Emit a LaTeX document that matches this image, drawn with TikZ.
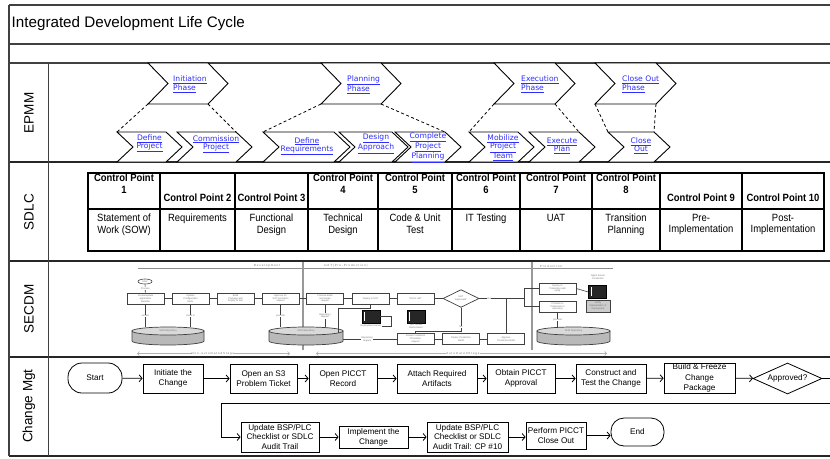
\documentclass[tikz,border=0pt]{standalone}
\usepackage{fontspec}
\setmainfont{Liberation Sans}
\newfontfamily\vfont{DejaVu Sans}
\newfontfamily\narrowfont[FakeStretch=0.9]{Liberation Sans}
\usetikzlibrary{arrows.meta,shapes.geometric,calc}
\definecolor{lnk}{RGB}{45,45,255}

\newcommand\chev[7]{% name, left x, top y, width, height, depth
  \draw[chevln] (#2,#3) coordinate (#1-nw) -- ++(#4,0) coordinate (#1-ne)
    -- ++(#6,#5/2) coordinate (#1-tip) -- ++(-#6,#5/2) coordinate (#1-se)
    -- ++(-#4,0) coordinate (#1-sw) -- ++(#6,-#5/2) coordinate (#1-notch) -- cycle;}

\newcommand\dbcyl[4]{% name, center x, top-ellipse y, x radius
  \draw[line width=0.7pt, black!75, fill=gray!55] (#2-#4,#3) -- (#2-#4,#3+10)
    arc[start angle=180, end angle=0, x radius=#4, y radius=4] -- (#2+#4,#3) -- cycle;
  \draw[line width=0.7pt, black!75, fill=gray!30] (#2,#3) ellipse[x radius=#4, y radius=4];
  \node[stxt] (#1) at (#2,#3) {SCM Repository};}

\tikzset{
  frameln/.style={line width=1.2pt, black!75},
  laneln/.style={line width=1.4pt, black!85},
  lanelbl/.style={rotate=90, font=\fontsize{13.5}{15}\selectfont},
  chevln/.style={line width=0.9pt, fill=white, line join=miter},
  phtxt/.style={font=\vfont\fontsize{7.6}{8.8}\selectfont, text=lnk, align=left, inner sep=0, anchor=west},
  subtxt/.style={font=\vfont\fontsize{7.6}{8}\selectfont, text=lnk, align=center, inner sep=0},
  dashln/.style={line width=0.8pt, dash pattern=on 3pt off 2.5pt},
  tbl/.style={line width=2.8pt},
  cph/.style={font=\narrowfont\bfseries\fontsize{10.5}{12}\selectfont, align=center, inner sep=0},
  cpb/.style={font=\narrowfont\fontsize{10.5}{11.5}\selectfont, align=center, inner sep=0, anchor=north},
  sln/.style={line width=0.6pt, black!75},
  sbox/.style={draw=black!75, line width=0.7pt, fill=white, minimum width=37, minimum height=11,
    inner sep=0.3, align=center, font=\fontsize{2.4}{2.8}\selectfont, text=black!55},
  stxt/.style={font=\fontsize{2.4}{2.8}\selectfont, text=black!55, align=center, inner sep=0.3},
  shead/.style={font=\fontsize{3}{3.5}\selectfont, text=black!55, inner sep=0},
  srv/.style={draw=black, fill=black!85, minimum width=18, minimum height=13, inner sep=0},
  mbox/.style={draw, line width=0.8pt, fill=white, align=center, inner sep=0,
    font=\fontsize{8.2}{9.8}\selectfont},
  arr/.style={line width=0.8pt, -{Straight Barb[length=3pt,width=7pt]}},
}

\begin{document}
\begin{tikzpicture}[x=1pt,y=-1pt]
\useasboundingbox (0,0) rectangle (830,458);
\clip (0,0) rectangle (830,458);
\fill[white] (0,0) rectangle (830,458);

% ---------- frame ----------
\draw[frameln] (9,5) -- (830,5);
\draw[frameln] (9,44) -- (830,44);
\draw[frameln] (9,63) -- (830,63);
\draw[laneln] (9,162) -- (830,162);
\draw[laneln] (9,261) -- (830,261);
\draw[laneln] (9,357) -- (830,357);
\draw[laneln] (9,456) -- (830,456);
\draw[frameln] (9,5) -- (9,456);
\draw[frameln] (48.5,63) -- (48.5,456);

\node[anchor=west, inner sep=0, font=\fontsize{15.2}{18}\selectfont] (title) at (11.5,24) {Integrated Development Life Cycle};

\node[lanelbl] (lEPMM) at (29,113) {EPMM};
\node[lanelbl] (lSDLC) at (29,212) {SDLC};
\node[lanelbl] (lSECDM) at (29,309) {SECDM};
\node[lanelbl] (lCM) at (29,406) {Change Mgt};

% ---------- EPMM ----------
\chev{init}{148}{63}{60}{41}{20}{}
\chev{plan}{321}{63}{60}{41}{20}{}
\chev{exec}{494}{63}{61}{41}{20}{}
\chev{clos}{595}{63}{61}{41}{20}{}
\node[phtxt] (initT) at (173,84.5) {\underline{Initiation}\\\underline{Phase}};
\node[phtxt] (planT) at (347,84.5) {\underline{Planning}\\\underline{Phase}};
\node[phtxt] (execT) at (521,84.5) {\underline{Execution}\\\underline{Phase}};
\node[phtxt] (closT) at (622,84.5) {\underline{Close Out}\\\underline{Phase}};

\chev{defp}{117}{132}{49}{30}{16}{}
\chev{comm}{177}{132}{59}{30}{16}{}
\chev{defr}{263}{132}{71}{30}{16}{}
\chev{desa}{339}{132}{53}{30}{16}{}
\chev{comp}{395}{132}{50}{30}{16}{}
\chev{mobi}{469}{132}{49}{30}{16}{}
\chev{expl}{529}{132}{50}{30}{16}{}
\chev{clo}{608}{132}{46}{30}{16}{}
\node[subtxt] (defpT) at (149.5,143.5) {\underline{Define}\\\underline{Project}};
\node[subtxt] (commT) at (216,144) {\underline{Commission}\\\underline{Project}};
\node[subtxt] (defrT) at (307,146) {\underline{Define}\\\underline{Requirements}};
\node[subtxt] (desaT) at (376,143.5) {\underline{Design}\\\underline{Approach}};
\node[subtxt] (compT) at (428,147.5) {\underline{Complete}\\\underline{Project}\\\underline{Planning}};
\node[subtxt] (mobiT) at (503,148) {\underline{Mobilize}\\\underline{Project}\\\underline{Team}};
\node[subtxt] (explT) at (562,146) {\underline{Execute}\\\underline{Plan}};
\node[subtxt] (cloT) at (641,146) {\underline{Close}\\\underline{Out}};

\draw[dashln] (init-sw) -- (defp-nw);
\draw[dashln] (init-se) -- (comm-ne);
\draw[dashln] (plan-sw) -- (defr-nw);
\draw[dashln] (plan-se) -- (comp-ne);
\draw[dashln] (exec-sw) -- (mobi-nw);
\draw[dashln] (exec-se) -- (expl-ne);
\draw[dashln] (clos-sw) -- (clo-nw);
\draw[dashln] (clos-se) -- (clo-ne);

% ---------- SDLC table ----------
\draw[tbl] (88,173) rectangle (824,251);
\draw[tbl] (88,209) -- (824,209);
\foreach \xx in {160,235,308,378,452,520,592,660,742} \draw[tbl] (\xx,173) -- (\xx,251);
\node[cph] (cp1) at (124,184) {Control Point\\1};
\node[cph] (cp2) at (197.5,198) {Control Point 2};
\node[cph] (cp3) at (271.5,198) {Control Point 3};
\node[cph] (cp4) at (343,184) {Control Point\\4};
\node[cph] (cp5) at (415,184) {Control Point\\5};
\node[cph] (cp6) at (486,184) {Control Point\\6};
\node[cph] (cp7) at (556,184) {Control Point\\7};
\node[cph] (cp8) at (626,184) {Control Point\\8};
\node[cph] (cp9) at (701,198) {Control Point 9};
\node[cph] (cp10) at (783,198) {Control Point 10};
\node[cpb] (d1) at (124,214) {Statement of\\Work (SOW)};
\node[cpb] (d2) at (197.5,214) {Requirements};
\node[cpb] (d3) at (271.5,214) {Functional\\Design};
\node[cpb] (d4) at (343,214) {Technical\\Design};
\node[cpb] (d5) at (415,214) {Code \& Unit\\Test};
\node[cpb] (d6) at (486,214) {IT Testing};
\node[cpb] (d7) at (556,214) {UAT};
\node[cpb] (d8) at (626,214) {Transition\\Planning};
\node[cpb] (d9) at (701,214) {Pre-\\Implementation};
\node[cpb] (d10) at (783,214) {Post-\\Implementation};

% ---------- SECDM ----------
\draw[line width=0.6pt, black!45] (138,268.5) -- (613,268.5);
\draw[line width=1.5pt, black!40] (303,262) -- (303,350);
\draw[line width=1.5pt, black!40] (532,262) -- (532,350);
\node[shead] (hDev) at (267,266) {D e v e l o p m e n t};
\node[shead] (hUAT) at (346,266) {U A T  ( P r e - P r o d u c t i o n )};
\node[shead] (hProd) at (551,266) {P r o d u c t i o n};

\node[draw=black!75, line width=0.6pt, ellipse, minimum width=14, minimum height=5, inner sep=0, stxt] (sst) at (145,281.5) {Start};
\node[sbox] (s1) at (145.5,298.5) {Create/update\\application\\baseline};
\node[sbox] (s2) at (190.5,298.5) {Update\\Configuration\\Items};
\node[sbox] (s3) at (235.5,298.5) {Build\\Package and\\Deploy to Dev};
\node[sbox] (s4) at (280.5,298.5) {Approve for\\UAT promotion\\request};
\node[sbox] (s5) at (325,298.5) {Promote Build\\and create\\request};
\node[sbox] (s6) at (370.5,298.5) {Deploy to UAT};
\node[sbox] (s7) at (415.5,298.5) {Test in UAT};
\node[draw=black!75, line width=0.7pt, diamond, fill=white, minimum width=36, minimum height=11, inner sep=0, stxt] (sdia) at (461,298.5) {UAT\\Approved?};
\draw[sln] (sst) -- (s1) node[midway, fill=white, stxt] {Process};
\draw[sln] (s1) -- (s2);
\draw[sln] (s2) -- (s3);
\draw[sln] (s3) -- (s4);
\draw[sln] (s4) -- (s5);
\draw[sln] (s5) -- (s6);
\draw[sln] (s6) -- (s7);
\draw[sln] (s7) -- (sdia);

\dbcyl{cyl1}{168}{331}{36}
\dbcyl{cyl2}{306}{331}{37}
\dbcyl{cyl3}{573.5}{331}{36.5}

\draw[sln] (s1.south) -- ++(0,23) node[midway, fill=white, stxt] {extract};
\draw[sln] (s2.south) -- ++(0,23) node[midway, fill=white, stxt] {check in};
\draw[sln] (s4.south) -- ++(0,23) node[midway, fill=white, stxt] {promote};
\draw[sln] (s5.south) -- ++(0,23) node[midway, fill=white, stxt] {Repository\\request};
\draw[sln] (s6.south) -- ++(0,4) -| (338,333);

\node[srv] (srv1) at (371,316.5) {};
\node[srv] (srv2) at (416,316.5) {};
\draw[white, line width=0.8pt] ($(srv1.north west)+(3,2)$) -- ++(0,9);
\draw[white, line width=0.8pt] ($(srv2.north west)+(3,2)$) -- ++(0,9);
\node[stxt] (srv1c) at (371,326) {Deployment Server};
\node[stxt] (srv2c) at (416,326) {UAT Server\\Environment};
\draw[sln] (srv1.east) -- ++(11,0) |- (srv1c.east);

\node[sbox] (sb1) at (415.5,339) {Create Production\\Promotion\\request};
\node[sbox] (sb2) at (461,339) {Deploy Production\\Build};
\node[sbox] (sb3) at (506,339) {Approve\\Production Build};
\draw[sln] (sb1) -- (sb2);
\draw[sln] (sb2) -- (sb3);
\draw[sln] (343,339) -- (sb1.west) node[pos=0.45, fill=white, stxt] {Repository\\request};
\draw[sln] (sdia.south) -- (461,331) -| (sb1.north);
\node[stxt, fill=white] (sno) at (461,327) {No};
\draw[sln] (sdia.east) -- (524,298.5);
\node[stxt, fill=white] (syes) at (489,298.5) {Yes};
\draw[sln] (506,298.5) -- (sb3.north);

\node[sbox] (sp1) at (557.5,288.5) {Deploy to\\Production and\\verify};
\node[sbox] (sp2) at (557.5,306.5) {Promote to\\Production in\\repository};
\draw[sln] (524,298.5) |- (sp1.west);
\draw[sln] (524,298.5) |- (sp2.west);
\node[srv] (srv3) at (597.5,292) {};
\draw[white, line width=0.8pt] ($(srv3.north west)+(3,2)$) -- ++(0,9);
\node[stxt] (srv3c) at (598,277.5) {Agent Server\\Production};
\draw[sln] (sp1.east) -- (srv3.west);
\node[draw=black!75, line width=0.7pt, fill=gray!40, minimum width=24, minimum height=12, inner sep=0, stxt] (sg) at (598,306) {Notify\\Stakeholders of\\Deployment};
\draw[sln] (sp2.south) -- ++(0,15) node[midway, fill=white, stxt] {promote};

\draw[black!30, line width=0.6pt, {Straight Barb[length=2pt,width=4pt]}-{Straight Barb[length=2pt,width=4pt]}] (137,353.5) -- (290,353.5);
\draw[black!30, line width=0.6pt, {Straight Barb[length=2pt,width=4pt]}-{Straight Barb[length=2pt,width=4pt]}] (316,353.5) -- (607,353.5);
\node[shead, fill=white] (stg1) at (213,353.5) {N o n - a u t o m a t e d   S t a g e};
\node[shead, fill=white] (stg2) at (463,353.5) {A u t o m a t e d   S t a g e};

% ---------- Change Mgt ----------
\node[mbox, rounded corners=14pt, minimum width=54, minimum height=30] (start) at (95,378) {Start};
\node[mbox, minimum width=60, minimum height=29] (init) at (173,378.5) {Initiate the\\Change};
\node[mbox, minimum width=67, minimum height=29] (s3t) at (263.5,378.5) {Open an S3\\Problem Ticket};
\node[mbox, minimum width=68, minimum height=29] (picr) at (343,378.5) {Open PICCT\\Record};
\node[mbox, minimum width=80, minimum height=29] (atta) at (437,378.5) {Attach Required\\Artifacts};
\node[mbox, minimum width=68, minimum height=29] (obta) at (521,378.5) {Obtain PICCT\\Approval};
\node[mbox, minimum width=70, minimum height=29] (cons) at (611,378.5) {Construct and\\Test the Change};
\node[mbox, minimum width=71, minimum height=30, font=\fontsize{8.2}{10.5}\selectfont] (buil) at (699.5,378) {Build \& Freeze\\Change\\Package};
\node[draw, line width=0.8pt, diamond, aspect=2.2, fill=white, inner sep=0, minimum width=69, minimum height=31, font=\fontsize{8.2}{10}\selectfont] (appr) at (787.5,378.5) {Approved?};

\node[mbox, minimum width=78, minimum height=30] (upd1) at (280,437) {Update BSP/PLC\\Checklist or SDLC\\Audit Trail};
\node[mbox, minimum width=69, minimum height=22] (impl) at (373.5,437) {Implement the\\Change};
\node[mbox, minimum width=81, minimum height=30] (upd2) at (467.5,437) {Update BSP/PLC\\Checklist or SDLC\\Audit Trail: CP \#10};
\node[mbox, minimum width=60, minimum height=27] (perf) at (556,435.5) {Perform PICCT\\Close Out};
\node[mbox, rounded corners=13pt, minimum width=53, minimum height=28] (endn) at (637.5,432) {End};

\draw[arr] (start) -- (init);
\draw[arr] (init) -- (s3t);
\draw[arr] (s3t) -- (picr);
\draw[arr] (picr) -- (atta);
\draw[arr] (atta) -- (obta);
\draw[arr] (obta) -- (cons);
\draw[arr] (cons) -- (buil);
\draw[arr] (buil) -- (appr);
\draw[arr] (appr.east) -- (845,378.5) -- (845,403) -- (221,403) |- (upd1.west);
\draw[arr] (upd1) -- (impl);
\draw[arr] (impl) -- (upd2);
\draw[arr] (upd2.east) -- (perf.west |- upd2.east);
\draw[arr] (perf.east) -- (endn.west |- perf.east);
\end{tikzpicture}
\end{document}
